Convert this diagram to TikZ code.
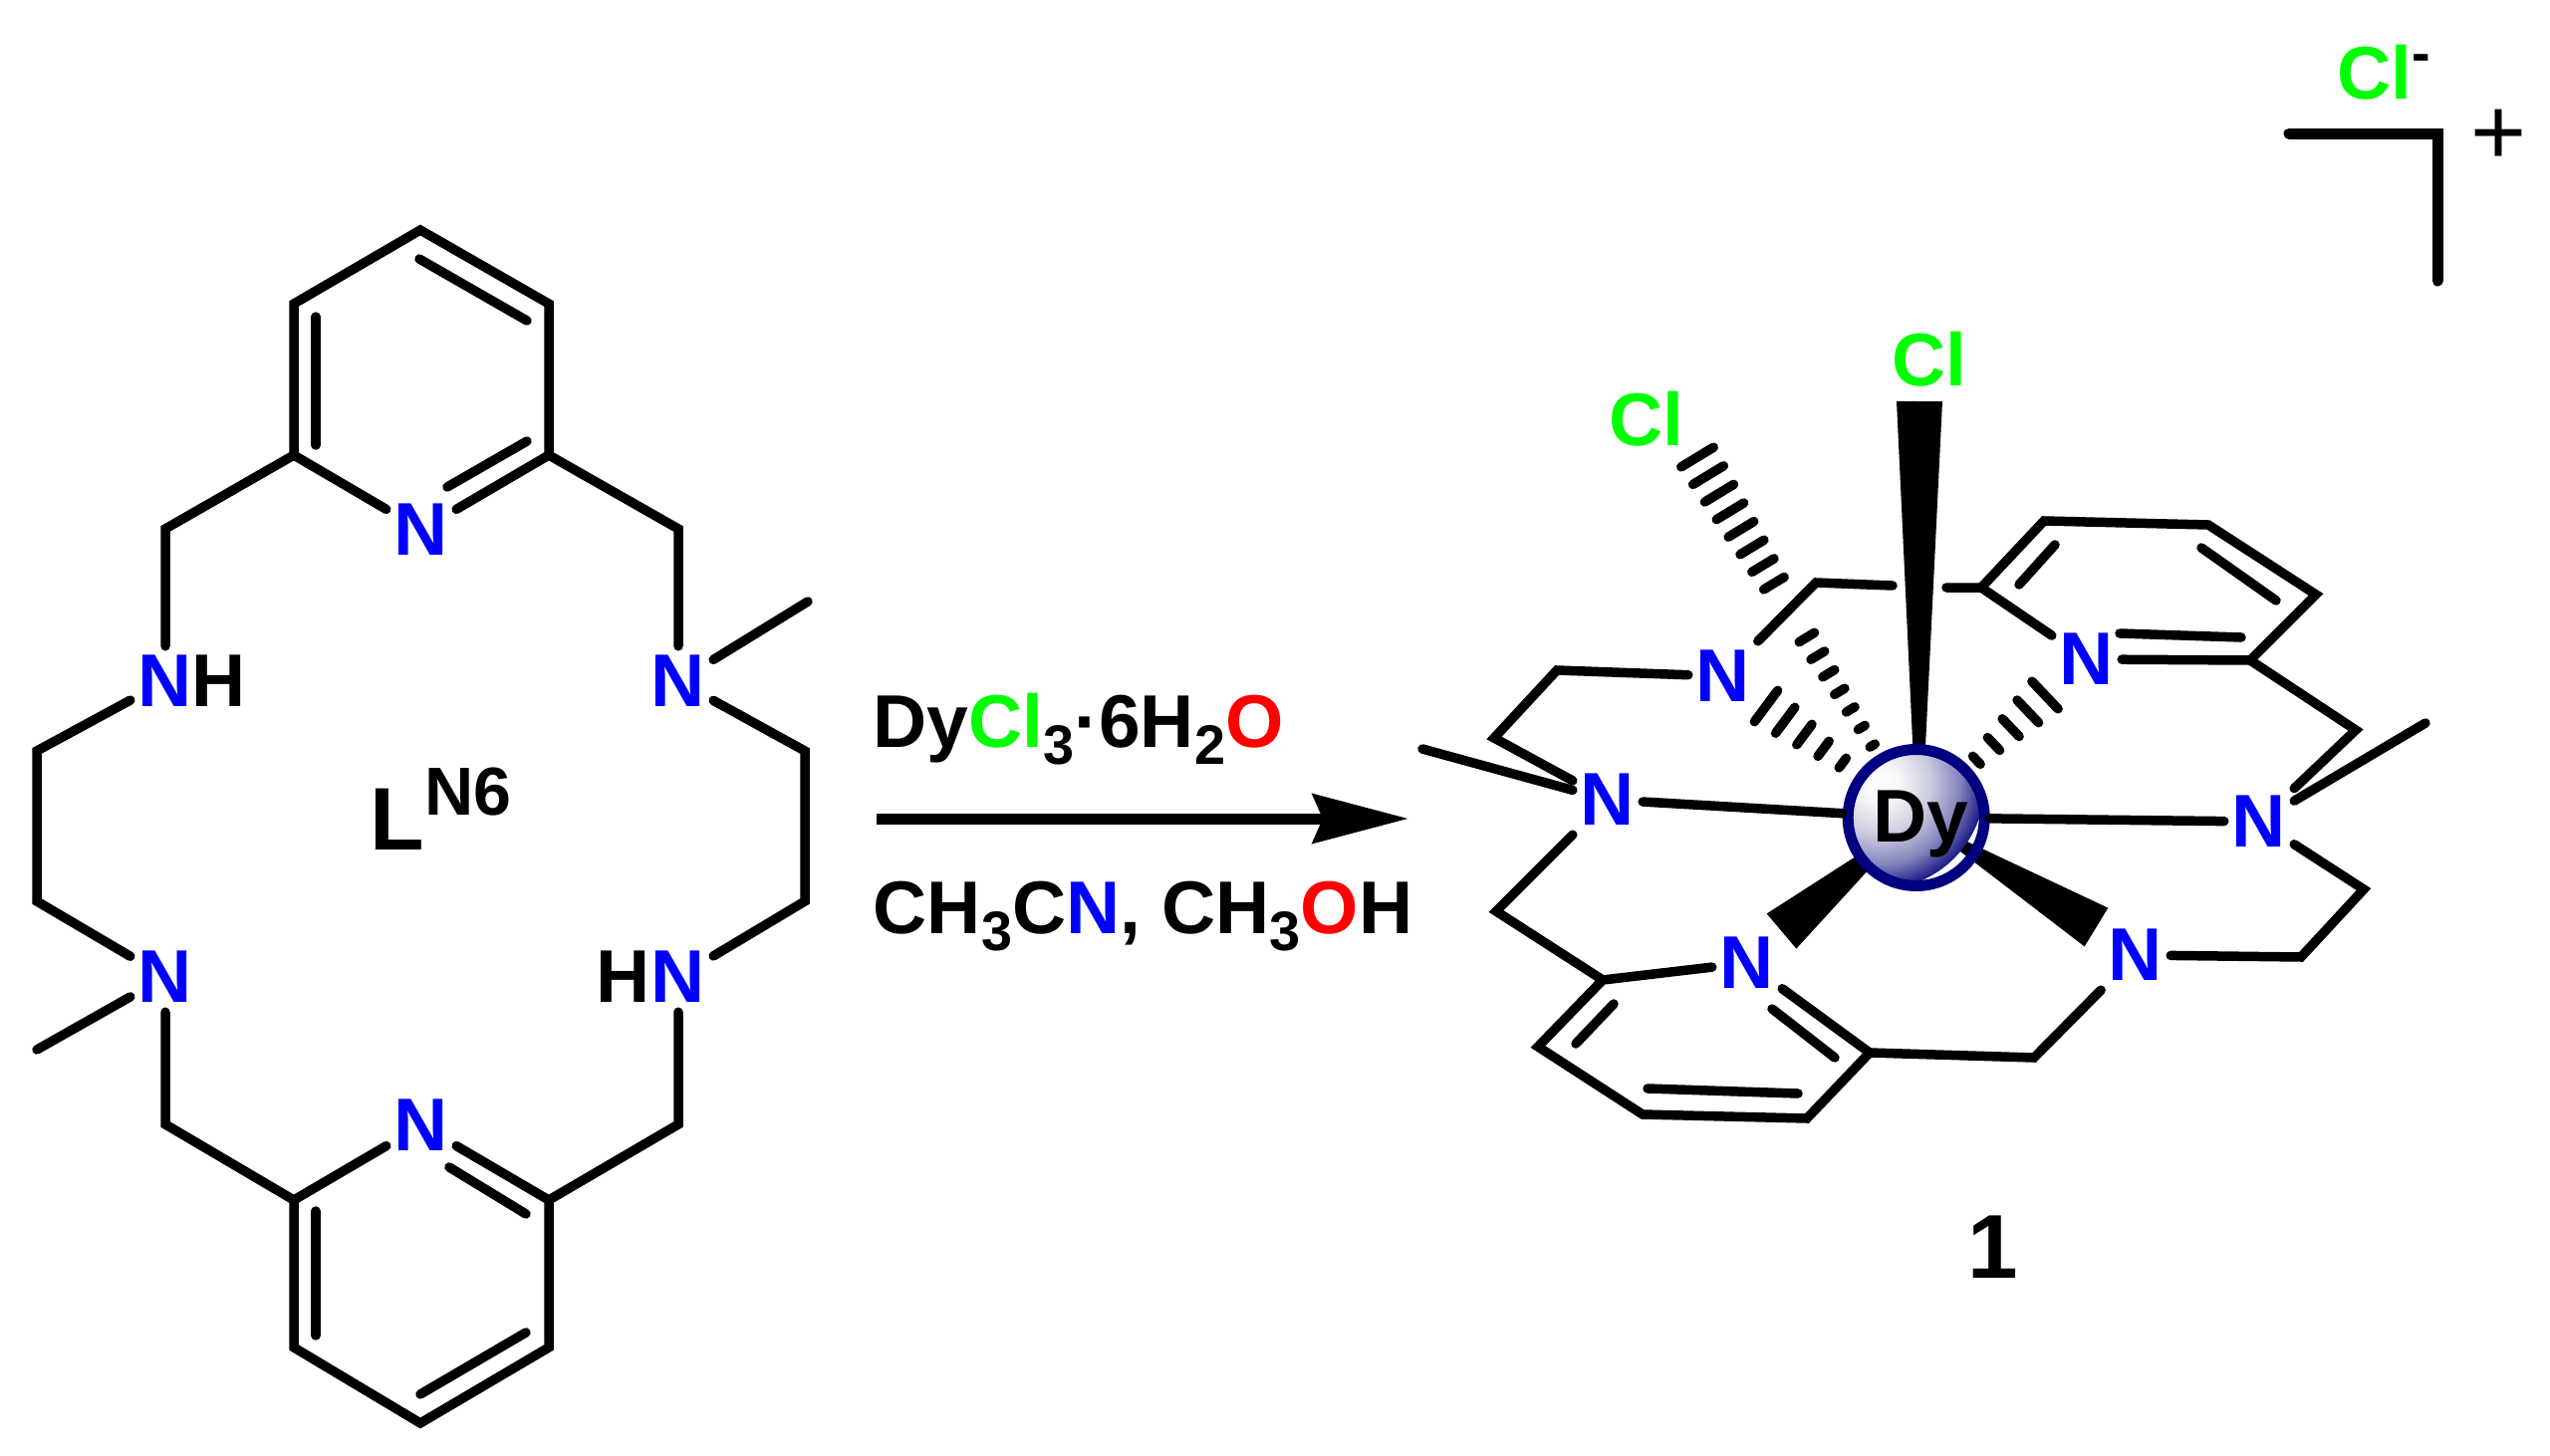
\documentclass[tikz,border=0pt]{standalone}
\usepackage{fontspec}
\setmainfont{Liberation Sans}
\usetikzlibrary{ calc,        % For wedge and hash end points
                 arrows.meta,
               }
\definecolor{ngreen}{RGB}{0,255,0}
\definecolor{nblue}{RGB}{0,0,255}
\definecolor{nred}{RGB}{255,0,0}
\definecolor{dyrim}{RGB}{0,0,128}
\pgfdeclareradialshading{dyball}{\pgfpoint{0bp}{0bp}}{rgb(0bp)=(1,1,1); rgb(4.5bp)=(0.97,0.97,0.98); rgb(12bp)=(0.80,0.80,0.88); rgb(19bp)=(0.52,0.52,0.74); rgb(23.5bp)=(0.2,0.2,0.58); rgb(25bp)=(0.1,0.1,0.52); rgb(50bp)=(0.1,0.1,0.52)}
\tikzstyle{bond} = [line width=0.95mm, line cap=round, line join=miter]
\tikzstyle{chem} = [inner sep=0, font=\fontsize{21.35}{24}\bfseries\selectfont]
\tikzstyle{atom} = [chem, rectangle, text=nblue, minimum width=6.9mm, minimum height=6.9mm]
\tikzstyle{halide} = [chem, text=ngreen, anchor=base]
\tikzstyle{metal} = [circle, inner sep=0, minimum size=13.7mm, line width=1.1mm, draw=dyrim,
  path picture={\shade [shading=dyball] ($(path picture bounding box.center)+(-3.7mm,3.4mm)$) circle [radius=10.6mm];}]
\tikzstyle{reagent} = [chem, anchor=base west]
\newcommand{\lowidx}[1]{\raisebox{-1.7mm}{\fontsize{15.9}{16}\selectfont #1}}
\newcommand{\wedgebond}[4]{\fill ($(#1)!#3!90:(#2)$) -- ($(#1)!#3!-90:(#2)$) -- ($(#2)!#4!90:(#1)$) -- ($(#2)!#4!-90:(#1)$) -- cycle;}
\newcommand{\hashbond}[6]{%
  \foreach \k in {#3} {
    \pgfmathsetmacro\hpos{\k/#4}
    \pgfmathsetmacro\hw{0.1*(#5-#6*\k)}
    \coordinate (hm) at ($(#1)!\hpos!(#2)$);
    \draw [bond] ($(hm)!\hw mm!90:(#2)$) -- ($(hm)!\hw mm!-90:(#2)$);
  }}

\begin{document}
\begin{tikzpicture}[x=0.1mm, y=-0.1mm]
  \useasboundingbox (0, 0) rectangle (2560, 1462);

  % free ligand
  \node (la) [atom] at (423, 532) {N};
  \node (lb) [atom] at (166, 684) {N};
  \node (lc) [atom] at (681, 684) {N};
  \node (ld) [atom] at (166, 981) {N};
  \node (le) [atom] at (681, 981) {N};
  \node (lf) [atom] at (423, 1130) {N};
  \node (hb) [chem] at (220, 684) {H};
  \node (he) [chem] at (626, 981) {H};
  \coordinate (t1) at (422, 231);
  \coordinate (t2) at (295, 305);
  \coordinate (t3) at (295, 457);
  \coordinate (t4) at (551, 305);
  \coordinate (t5) at (551, 457);
  \coordinate (t6) at (166, 531);
  \coordinate (t7) at (681, 531);
  \coordinate (m1) at (811, 604);
  \coordinate (s1) at (808, 754);
  \coordinate (s2) at (808, 905);
  \coordinate (s3) at (37, 754);
  \coordinate (s4) at (37, 905);
  \coordinate (m2) at (37, 1054);
  \coordinate (u1) at (422, 1429);
  \coordinate (u2) at (295, 1205);
  \coordinate (u3) at (295, 1353);
  \coordinate (u4) at (551, 1205);
  \coordinate (u5) at (551, 1353);
  \coordinate (u6) at (166, 1129);
  \coordinate (u7) at (681, 1129);
  \draw [bond] (la) -- (t3) -- (t2) -- (t1) -- (t4) -- (t5) -- (la);
  \draw [bond] (lb) -- (t6) -- (t3);
  \draw [bond] (lc) -- (t7) -- (t5);
  \draw [bond] (lc) -- (m1);
  \draw [bond] (lc) -- (s1) -- (s2) -- (le);
  \draw [bond] (lb) -- (s3) -- (s4) -- (ld);
  \draw [bond] (ld) -- (m2);
  \draw [bond] (ld) -- (u6) -- (u2);
  \draw [bond] (le) -- (u7) -- (u4);
  \draw [bond] (lf) -- (u2) -- (u3) -- (u1) -- (u5) -- (u4) -- (lf);
  % inner lines of the double bonds
  \coordinate (ti1) at (317, 318);
  \coordinate (ti2) at (317, 447);
  \coordinate (ti3) at (421, 260);
  \coordinate (ti4) at (529, 322);
  \coordinate (ti5) at (529, 443);
  \coordinate (ti6) at (449, 489);
  \coordinate (ui1) at (317, 1216);
  \coordinate (ui2) at (317, 1341);
  \coordinate (ui3) at (451, 1172);
  \coordinate (ui4) at (528, 1219);
  \coordinate (ui5) at (528, 1338);
  \coordinate (ui6) at (422, 1400);
  \draw [bond] (ti1) -- (ti2);
  \draw [bond] (ti3) -- (ti4);
  \draw [bond] (ti5) -- (ti6);
  \draw [bond] (ui1) -- (ui2);
  \draw [bond] (ui3) -- (ui4);
  \draw [bond] (ui5) -- (ui6);
  \node (lname) [chem, anchor=base west, font=\fontsize{25.4}{28}\bfseries\selectfont] at (370.5, 853) {L};
  \node (lsup) [chem, anchor=base west, font=\fontsize{19.4}{22}\bfseries\selectfont] at (426, 818) {N6};

  % reaction arrow
  \coordinate (arrowa) at (880, 822);
  \coordinate (arrowb) at (1414, 822);
  \draw [line width=1.1mm, -{Stealth[length=9.6mm, width=4.9mm, inset=1mm]}] (arrowa) -- (arrowb);
  \node (top) [reagent] at (875.5, 750) {Dy\textcolor{ngreen}{Cl}\lowidx{3}·6H\lowidx{2}\textcolor{nred}{O}};
  \node (bottom) [reagent] at (876, 937) {CH\lowidx{3}C\textcolor{nblue}{N}, CH\lowidx{3}\textcolor{nred}{O}H};

  % complex
  \node (na) [atom] at (1730, 679) {N};
  \node (nb) [atom] at (2095, 662) {N};
  \node (nc) [atom] at (1614, 803) {N};
  \node (nd) [atom] at (2268, 825) {N};
  \node (ne) [atom] at (1754, 967) {N};
  \node (nf) [atom] at (2144, 959) {N};
  \coordinate (v1) at (1823, 585);
  \coordinate (v2) at (1989, 590);
  \coordinate (v3) at (2052, 523);
  \coordinate (v4) at (2217, 527);
  \coordinate (v5) at (2325, 597);
  \coordinate (v6) at (2259, 663);
  \coordinate (v7) at (2365, 733);
  \coordinate (v8) at (2373, 893);
  \coordinate (v9) at (2310, 961);
  \coordinate (v10) at (2042, 1062);
  \coordinate (v11) at (1877, 1057);
  \coordinate (v12) at (1814, 1123);
  \coordinate (v13) at (1649, 1119);
  \coordinate (v14) at (1544, 1051);
  \coordinate (v15) at (1609, 984);
  \coordinate (v16) at (1502, 915);
  \coordinate (v17) at (1500, 741);
  \coordinate (v18) at (1563, 673);
  \coordinate (m3) at (2435, 726);
  \coordinate (m4) at (1428, 752);
  \coordinate (g1) at (1900, 588);
  \coordinate (g2) at (1954, 590);
  \draw [bond] (na) -- (v1) -- (g1);
  \draw [bond] (g2) -- (v2) -- (nb);
  \draw [bond] (v2) -- (v3) -- (v4) -- (v5) -- (v6) -- (nb);
  \draw [bond] (v6) -- (v7) -- (nd);
  \draw [bond] (nd) -- (m3);
  \draw [bond] (nd) -- (v8) -- (v9) -- (nf);
  \draw [bond] (nf) -- (v10) -- (v11) -- (ne);
  \draw [bond] (v11) -- (v12) -- (v13) -- (v14) -- (v15) -- (ne);
  \draw [bond] (v15) -- (v16) -- (nc);
  \draw [bond] (nc) -- (v17) -- (v18) -- (na);
  \draw [bond] (nc) -- (m4);
  \coordinate (i1) at (2027, 587);
  \coordinate (i2) at (2063, 547);
  \coordinate (i3) at (2210, 550);
  \coordinate (i4) at (2285, 603);
  \coordinate (i5) at (2128, 636);
  \coordinate (i6) at (2250, 640);
  \coordinate (i7) at (1779, 1013);
  \coordinate (i8) at (1842, 1062);
  \coordinate (i9) at (1654, 1093);
  \coordinate (i10) at (1805, 1098);
  \coordinate (i11) at (1582, 1048);
  \coordinate (i12) at (1620, 1008);
  \draw [bond] (i1) -- (i2);
  \draw [bond] (i3) -- (i4);
  \draw [bond] (i5) -- (i6);
  \draw [bond] (i7) -- (i8);
  \draw [bond] (i9) -- (i10);
  \draw [bond] (i11) -- (i12);

  % bonds around the metal
  \coordinate (dyc) at (1923.7, 821);
  \coordinate (tipcl) at (1926.5, 882);
  \coordinate (wcl) at (1927, 403);
  \coordinate (wl) at (1788.5, 935);
  \coordinate (wr) at (2104.5, 931);
  \coordinate (hcl) at (1704, 459);
  \coordinate (ha) at (1773, 709);
  \coordinate (hb2) at (2053, 698);
  \wedgebond{wcl}{tipcl}{2.3mm}{0mm}
  \wedgebond{wl}{dyc}{2.3mm}{0mm}
  \wedgebond{wr}{dyc}{2.27mm}{0mm}
  \hashbond{hcl}{dyc}{0,...,7,10,11,...,16}{20}{19}{1}
  \hashbond{ha}{dyc}{0,...,4}{7.85}{19.5}{3.375}
  \hashbond{hb2}{dyc}{0,...,4}{7.53}{19}{3.375}
  \node (dy) [metal] at (dyc) {};
  \node (dylabel) [chem, anchor=base] at (1928, 845) {Dy};
  \draw [bond] (nc) -- (dy);
  \draw [bond] (nd) -- (dy);
  \node (cla) [halide] at (1653, 447) {Cl};
  \node (clb) [halide] at (1937, 387) {Cl};
  \node (one) [chem, anchor=base, font=\fontsize{25.9}{28}\bfseries\selectfont] at (2001, 1283) {1};

  % charge corner
  \coordinate (c1) at (2298, 134);
  \coordinate (c2) at (2447, 134);
  \coordinate (c3) at (2447, 282);
  \draw [line width=1.1mm, line cap=round, line join=miter] (c1) -- (c2) -- (c3);
  \node (clion) [chem, anchor=base west] at (2346, 99) {\textcolor{ngreen}{Cl}\raisebox{2.7mm}{\fontsize{15.9}{16}\selectfont -}};
  \node (plus) [inner sep=0, font=\fontsize{27.3}{30}\selectfont] at (2508, 138) {+};
\end{tikzpicture}
\end{document}
